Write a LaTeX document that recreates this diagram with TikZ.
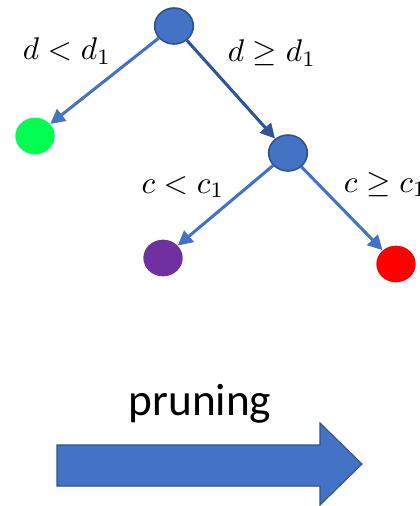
\RequirePackage{fix-cm}
\documentclass[tikz,border=0pt]{standalone}
\usepackage{amsmath,amssymb}
\usepackage{fontspec}
\newfontfamily\labelfont{Carlito}
\usetikzlibrary{arrows.meta,shapes.geometric}
\definecolor{nodeblue}{RGB}{68,114,196}
\definecolor{nodeedge}{RGB}{47,82,143}
\definecolor{darkedge}{RGB}{47,85,151}
\definecolor{leafgreen}{RGB}{0,255,80}
\definecolor{leafpurple}{RGB}{112,48,160}
\begin{document}
    \begin{tikzpicture}[x=0.75pt,y=0.75pt,yscale=-1,xscale=1,
        split/.style={ellipse,fill=nodeblue,draw=nodeedge,line width=1.2pt,minimum width=29pt,minimum height=27pt,inner sep=0pt},
        leaf/.style={ellipse,minimum width=29.5pt,minimum height=27.5pt,inner sep=0pt},
        branch/.style={draw=nodeblue,line width=2.3pt,-{Triangle[length=11pt,width=11pt]}},
        cond/.style={anchor=base,inner sep=0.75pt,scale=2.35}]
        \useasboundingbox (0,0) rectangle (420,506);
        % tree
        \node [split] (root) at (174,26) {};
        \node [split] (mid) at (288,153) {};
        \node [leaf,fill=leafgreen] (lgreen) at (35,136) {};
        \node [leaf,fill=leafpurple] (lpurple) at (163,258) {};
        \node [leaf,fill=red] (lred) at (396,264) {};
        \draw [branch] (root) -- (lgreen);
        \draw [branch,draw=darkedge] (root) -- (mid);
        \draw [branch] (mid) -- (lpurple);
        \draw [branch] (mid) -- (lred);
        \node [cond] (dlt) at (67,60) {$d<d_1$};
        \node [cond] (dge) at (272,62) {$d\geq d_1$};
        \node [cond] (clt) at (183,193) {$c<c_1$};
        \node [cond,anchor=base west] (cge) at (341,192) {$c\geq c_1$};
        % pruning arrow
        \node [anchor=base,inner sep=0.75pt,font=\labelfont\fontsize{34}{40}\selectfont] (prune) at (200,415) {pruning};
        \draw [fill=nodeblue,draw=nodeedge,line width=0.8pt] (57,445) -- (320,445) -- (320,423) -- (362,464) -- (320,505) -- (320,486) -- (57,486) -- cycle;
    \end{tikzpicture}
\end{document}
